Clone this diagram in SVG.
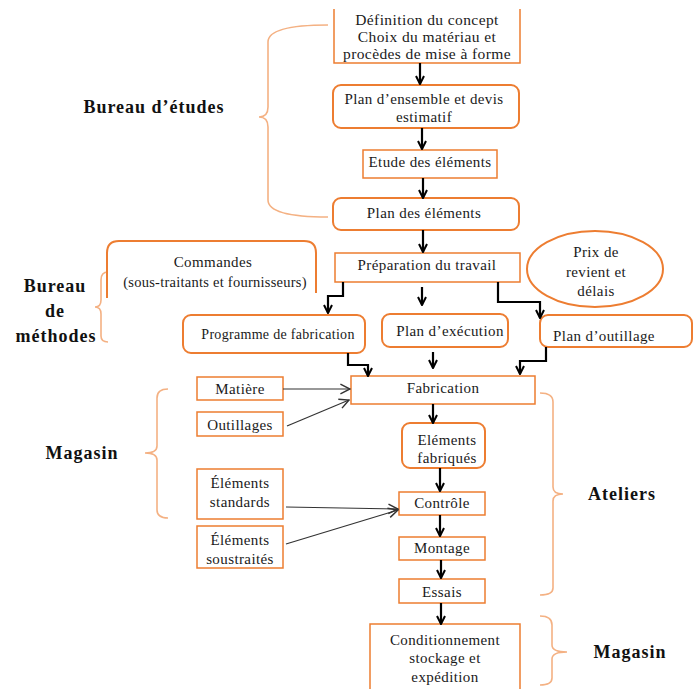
<svg xmlns="http://www.w3.org/2000/svg" width="697" height="689" viewBox="0 0 697 689">
<style>
text{font-family:"Liberation Serif","Times New Roman",serif;font-size:15px;letter-spacing:0.4px;fill:#1a1a1a;text-anchor:middle}
.lbl{font-weight:bold;font-size:18px;letter-spacing:1px;fill:#111}
.box{fill:#fff;stroke:#ED7D31;stroke-width:1.5}
.rbox{fill:#fff;stroke:#ED7D31;stroke-width:2}
.brace{fill:none;stroke:#F4B183;stroke-width:1.6}
.a{fill:none;stroke:#000;stroke-width:2.2;marker-end:url(#ah)}
.t{fill:none;stroke:#333;stroke-width:1.2;marker-end:url(#th)}
</style>
<defs>
<marker id="ah" viewBox="0 0 10 10" refX="9" refY="5" markerWidth="10" markerHeight="10" markerUnits="userSpaceOnUse" orient="auto"><path d="M1,1 L9,5 L1,9" fill="none" stroke="#000" stroke-width="2"/></marker>
<marker id="th" viewBox="0 0 10 10" refX="9" refY="5" markerWidth="12" markerHeight="12" markerUnits="userSpaceOnUse" orient="auto"><path d="M1,1 L9,5 L1,9" fill="none" stroke="#333" stroke-width="1.2"/></marker>
</defs>
<rect width="697" height="689" fill="#fff"/>

<g id="braces">
<path class="brace" d="M328,25 Q268,25 268,42 V107 Q268,117 259,117 Q268,117 268,127 V200 Q268,217 328,217"/>
<path class="brace" d="M108,272 Q101,272 101,280 V300 Q101,307 95,307 Q101,307 101,314 V336 Q101,342 108,342"/>
<path class="brace" d="M168,389 Q157,389 157,398 V446 Q157,453 145,453 Q157,453 157,460 V510 Q157,518 168,518"/>
<path class="brace" d="M540,393 Q553,393 553,402 V487 Q553,494 563,494 Q553,494 553,501 V588 Q553,595 540,595"/>
<path class="brace" d="M540,616 Q552,616 552,625 V645 Q552,652 567,652 Q552,652 552,659 V678 Q552,685 540,685"/>
</g>

<g id="labels">
<text class="lbl" x="154" y="113">Bureau d’études</text>
<text class="lbl" x="55" y="292">Bureau</text>
<text class="lbl" x="55" y="317">de</text>
<text class="lbl" x="56" y="342">méthodes</text>
<text class="lbl" x="82" y="459">Magasin</text>
<text class="lbl" x="622" y="500">Ateliers</text>
<text class="lbl" x="630" y="658">Magasin</text>
</g>

<g id="n1"><path class="box" d="M334,9 V63 H520 V9"/>
<text x="427" y="25" style="font-size:15.5px">Définition du concept</text>
<text x="427" y="42" style="font-size:15.5px">Choix  du matériau et</text>
<text x="427" y="59" style="font-size:15.5px">procèdes de mise à forme</text></g>
<g id="n2"><rect class="rbox" x="333" y="85" width="186" height="43" rx="8"/>
<text x="424" y="104">Plan d’ensemble et devis</text>
<text x="424" y="122">estimatif</text></g>
<g id="n3"><rect class="box" x="363" y="150" width="134" height="28"/>
<text x="430" y="167">Etude des éléments</text></g>
<g id="n4"><rect class="rbox" x="333" y="198" width="186" height="32" rx="8"/>
<text x="424" y="218">Plan des éléments</text></g>
<g id="n5"><rect class="box" x="335" y="253" width="185" height="29"/>
<text x="427" y="270">Préparation du travail</text></g>
<g id="n6"><ellipse class="rbox" cx="595" cy="269" rx="68" ry="38"/>
<text x="596" y="257">Prix  de</text>
<text x="596" y="277">revient et</text>
<text x="596" y="296">délais</text></g>
<g id="n7"><path class="rbox" d="M107,298 V253 Q107,241 119,241 H304 Q316,241 316,253 V293"/>
<text x="213" y="267">Commandes</text>
<text x="215" y="287" style="font-size:14.5px;letter-spacing:0.25px">(sous-traitants et fournisseurs)</text></g>
<g id="n8"><rect class="rbox" x="183" y="315" width="182" height="38" rx="8"/>
<text x="278" y="339" style="font-size:14px;letter-spacing:0.3px">Programme de fabrication</text></g>
<g id="n9"><rect class="rbox" x="382" y="314" width="126" height="33" rx="8"/>
<text x="450" y="336">Plan d’exécution</text></g>
<g id="n10"><rect class="rbox" x="540" y="315" width="152" height="32" rx="8"/>
<text x="604" y="341">Plan d’outillage</text></g>
<g id="n11"><rect class="box" x="351" y="376" width="184" height="28"/>
<text x="443" y="393">Fabrication</text></g>
<g id="n12"><rect class="box" x="197" y="377" width="86" height="23"/>
<text x="240" y="394">Matière</text></g>
<g id="n13"><rect class="box" x="197" y="412" width="86" height="24"/>
<text x="240" y="430">Outillages</text></g>
<g id="n14"><rect class="rbox" x="402" y="423" width="83" height="45" rx="8"/>
<text x="447" y="445">Eléments</text>
<text x="447" y="463">fabriqués</text></g>
<g id="n15"><rect class="box" x="197" y="469" width="86" height="50"/>
<text x="240" y="488">Éléments</text>
<text x="240" y="507">standards</text></g>
<g id="n16"><rect class="box" x="197" y="526" width="86" height="42"/>
<text x="240" y="545">Éléments</text>
<text x="240" y="564">soustraités</text></g>
<g id="n17"><rect class="box" x="399" y="492" width="86" height="23"/>
<text x="442" y="508">Contrôle</text></g>
<g id="n18"><rect class="box" x="399" y="537" width="86" height="23"/>
<text x="442" y="553">Montage</text></g>
<g id="n19"><rect class="box" x="399" y="579" width="86" height="24"/>
<text x="442" y="597">Essais</text></g>
<g id="n20"><rect class="box" x="370" y="624" width="150" height="72"/>
<text x="445" y="645">Conditionnement</text>
<text x="445" y="663">stockage et</text>
<text x="445" y="682">expédition</text></g>

<g id="connectors">
<path class="a" d="M420,63 V84"/>
<path class="a" d="M422,128 V149"/>
<path class="a" d="M423,178 V198"/>
<path class="a" d="M423,230 V252"/>
<path class="a" d="M343,282 V296 H328 V313"/>
<path class="a" d="M422,287 V305"/>
<path class="a" d="M498,282 V302 H540 V318"/>
<path class="a" d="M348,353 V365 H368 V376"/>
<path class="a" d="M433,352 V368"/>
<path class="a" d="M546,347 V361 H520 V374"/>
<path class="a" d="M433,404 V423"/>
<path class="a" d="M440,468 V491"/>
<path class="a" d="M440,515 V536"/>
<path class="a" d="M441,560 V578"/>
<path class="a" d="M441,603 V624"/>
<path class="t" d="M283,389 H350"/>
<path class="t" d="M287,426 L349,400"/>
<path class="t" d="M286,507 L398,509"/>
<path class="t" d="M286,544 L398,510"/>
</g>
</svg>
